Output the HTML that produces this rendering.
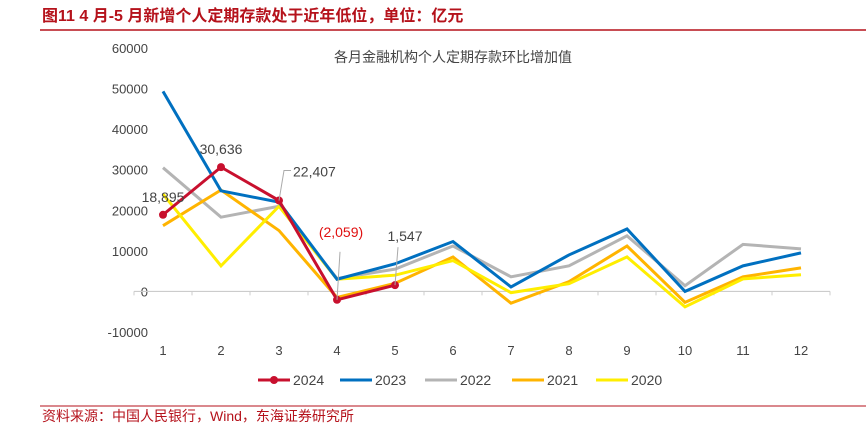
<!DOCTYPE html>
<html><head><meta charset="utf-8"><style>
body{margin:0;background:#fff;width:866px;height:429px;overflow:hidden;font-family:"Liberation Sans","Noto Sans CJK SC",sans-serif;}
</style></head><body>
<svg id="c" width="866" height="429" xmlns="http://www.w3.org/2000/svg">
<text x="42" y="21" font-size="16" font-weight="bold" fill="#b5121b" font-family="Liberation Sans,Noto Sans CJK SC,sans-serif">图11  4 月-5 月新增个人定期存款处于近年低位，单位：亿元</text>
<line x1="40" y1="30" x2="866" y2="30" stroke="#b5121b" stroke-width="1.5"/>
<text x="453" y="62" font-size="14" fill="#444" text-anchor="middle" font-family="Liberation Sans,Noto Sans CJK SC,sans-serif">各月金融机构个人定期存款环比增加值</text>
<g id="axes"></g><g id="series"></g>
<line x1="40" y1="406" x2="866" y2="406" stroke="#b5121b" stroke-width="1"/>
<text x="42" y="421" font-size="14" fill="#b5121b" font-family="Liberation Sans,Noto Sans CJK SC,sans-serif">资料来源：中国人民银行，Wind，东海证券研究所</text>
</svg>
<script>
const categories=["1","2","3","4","5","6","7","8","9","10","11","12"];
const yTicks=[-10000,0,10000,20000,30000,40000,50000,60000];
const s2024=[18895,30636,22407,-2059,1547];
const s2023=[49300,24800,22000,3000,6800,12300,1100,9000,15400,0,6300,9500];
const s2022=[30500,18300,21000,3200,5500,11200,3600,6300,13700,1400,11600,10500];
const s2021=[16200,25000,15000,-1500,2000,8500,-2900,2400,11200,-2700,3600,5800];
const s2020=[24000,6300,21000,3000,4000,7600,-300,1900,8500,-3800,3100,4100];
const labels2024=["18,895","30,636","22,407","(2,059)","1,547"];
const NS="http://www.w3.org/2000/svg";
const X0=134,X1=830,Y0=332,Y1=48,YMIN=-10000,YMAX=60000;
const xs=i=>X0+(X1-X0)/categories.length*(i+0.5);
const ys=v=>Y0-(v-YMIN)/(YMAX-YMIN)*(Y0-Y1);
function mk(tag,at,parent){const e=document.createElementNS(NS,tag);for(const k in at)e.setAttribute(k,at[k]);parent.appendChild(e);return e;}
const ax=document.getElementById('axes'),sg=document.getElementById('series');
yTicks.forEach(t=>{const e=mk('text',{x:148,y:ys(t)+5,'font-size':13,fill:'#444','text-anchor':'end'},ax);e.textContent=t;

});
const zl=mk('line',{x1:X0,x2:X1,y1:ys(0),y2:ys(0),stroke:'#ccc','stroke-width':1.2},ax);


for(let i=0;i<=categories.length;i++){const x=X0+(X1-X0)/categories.length*i;const t=mk('line',{x1:x,x2:x,y1:ys(0),y2:ys(0)+4,stroke:'#ccc'},ax);

}
categories.forEach((c,i)=>{const e=mk('text',{x:xs(i),y:355,'font-size':13,fill:'#444','text-anchor':'middle'},ax);e.textContent=c;

});
function line(data,color,name){const p=mk('polyline',{points:data.map((v,i)=>xs(i)+','+ys(v)).join(' '),fill:'none',stroke:color,'stroke-width':3,'stroke-linejoin':'miter'},sg);

}
line(s2022,'#b4b4b4','series-2022');
line(s2021,'#ffb400','series-2021');
line(s2020,'#ffee00','series-2020');
line(s2023,'#0070c0','series-2023');
line(s2024,'#c8102e','series-2024');
s2024.forEach((v,i)=>{const c=mk('circle',{cx:xs(i),cy:ys(v),r:4,fill:'#c8102e'},sg);

});
const lblPos=[[0,-13,'middle',0],[0,-13,'middle',0],[14,-24,'start',1],[4,-63,'middle',2],[10,-44,'middle',3]];
s2024.forEach((v,i)=>{const [dx,dy,an,ld]=lblPos[i];const x=xs(i),y=ys(v);
if(ld){const pts=ld===1?`${x},${y} ${x+5},${y-30} ${x+12},${y-30}`:(ld===2?`${x},${y} ${x+3},${y-48}`:`${x},${y} ${x+3},${y-38}`);
const l=mk('polyline',{points:pts,fill:'none',stroke:'#aaa','stroke-width':1},sg);

}
const t=mk('text',{x:x+dx,y:y+dy,'font-size':14,fill:v<0?'#e01010':'#444','text-anchor':an},sg);t.textContent=labels2024[i];

});
const leg=[['2024','#c8102e',258],['2023','#0070c0',340],['2022','#b4b4b4',425],['2021','#ffb400',512],['2020','#ffee00',596]];
leg.forEach(([n,c,x])=>{const g=mk('g',{},ax);


mk('line',{x1:x,x2:x+32,y1:380,y2:380,stroke:c,'stroke-width':3},g);
if(n==='2024')mk('circle',{cx:x+16,cy:380,r:4,fill:c},g);
const t=mk('text',{x:x+35,y:385,'font-size':14,fill:'#444'},g);t.textContent=n;});
</script>
</body></html>
